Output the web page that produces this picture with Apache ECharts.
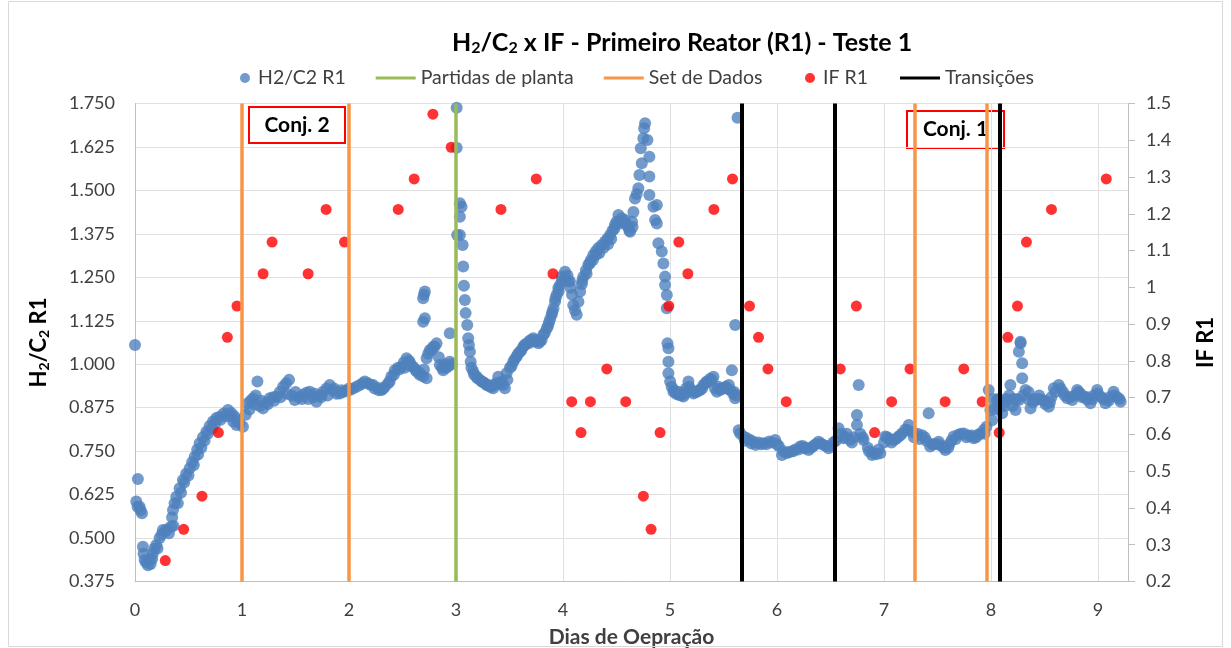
<!DOCTYPE html>
<html>
<head>
<meta charset="utf-8">
<script src="https://cdn.jsdelivr.net/npm/echarts@6/dist/echarts.min.js"></script>
<style>
html,body{margin:0;padding:0;background:#fff;}
#chart{width:1231px;height:648px;}
</style>
</head>
<body>
<div id="chart"></div>
<script>
// ---- Data ----
const xTicks = [0,1,2,3,4,5,6,7,8,9];
const leftTicks = [0.375,0.5,0.625,0.75,0.875,1.0,1.125,1.25,1.375,1.5,1.625,1.75];
const rightTicks = [0.2,0.3,0.4,0.5,0.6,0.7,0.8,0.9,1.0,1.1,1.2,1.3,1.4,1.5];

// H2/C2 R1 (left axis) : [day, value]
const h2c2 = [
[0.0,1.055],[0.027,0.67],[0.012,0.605],[0.024,0.59],[0.043,0.59],[0.065,0.571],[0.052,0.58],
[0.074,0.475],[0.08,0.455],[0.09,0.437],[0.104,0.43],[0.121,0.422],[0.141,0.44],[0.146,0.425],
[0.167,0.456],[0.183,0.47],[0.199,0.48],[0.23,0.5],[0.261,0.523],[0.286,0.52],[0.317,0.514],
[0.34,0.533],[0.347,0.56],[0.355,0.581],[0.37,0.6],[0.386,0.619],[0.417,0.643],[0.448,0.667],
[0.478,0.685],[0.511,0.701],[0.534,0.718],[0.558,0.734],[0.581,0.754],[0.604,0.773],[0.635,0.79],
[0.667,0.806],[0.698,0.822],[0.729,0.835],[0.76,0.845],[0.791,0.849],[0.829,0.858],[0.869,0.868],
[0.894,0.85],[0.918,0.835],[0.948,0.825],[0.978,0.83],[1.009,0.82],[1.035,0.855],[1.056,0.888],
[0.16,0.44],[0.21,0.47],[0.25,0.51],[0.3,0.525],[0.36,0.535],[0.4,0.6],[0.43,0.63],[0.46,0.66],
[0.5,0.68],[0.55,0.71],[0.59,0.74],[0.62,0.76],[0.65,0.78],[0.68,0.8],[0.72,0.815],[0.75,0.83],
[0.8,0.84],[0.85,0.85],[0.9,0.86],[0.93,0.85],[0.96,0.84],
[1.081,0.895],[1.103,0.902],[1.144,0.95],[1.128,0.91],[1.166,0.88],[1.196,0.873],[1.226,0.89],
[1.259,0.902],[1.29,0.905],[1.322,0.907],[1.353,0.92],[1.384,0.935],[1.412,0.945],[1.44,0.955],
[1.465,0.91],[1.493,0.897],[1.53,0.905],[1.571,0.912],[1.602,0.918],[1.633,0.921],[1.664,0.905],
[1.696,0.892],[1.727,0.91],[1.758,0.921],[1.79,0.93],[1.82,0.94],[1.851,0.925],[1.883,0.915],
[1.914,0.916],[1.945,0.92],[1.977,0.924],[2.007,0.926],[2.038,0.93],[2.07,0.935],[2.101,0.94],
[1.07,0.87],[1.12,0.885],[1.18,0.895],[1.24,0.885],[1.3,0.895],[1.36,0.905],[1.42,0.915],
[1.5,0.92],[1.56,0.9],[1.62,0.9],[1.68,0.915],[1.74,0.905],[1.8,0.91],[1.86,0.93],[1.93,0.925],[2.0,0.93],
[2.129,0.945],[2.148,0.95],[2.176,0.945],[2.204,0.94],[2.225,0.94],[2.265,0.932],[2.304,0.926],
[2.335,0.935],[2.366,0.945],[2.396,0.965],[2.428,0.983],[2.459,0.99],[2.491,0.993],[2.512,1.005],
[2.538,1.017],[2.569,1.005],[2.6,0.993],[2.631,0.979],[2.662,0.975],[2.693,0.965],[2.725,0.96],
[2.725,1.017],[2.756,1.041],[2.787,1.05],[2.818,1.06],[2.849,0.998],[2.88,0.983],[2.91,0.99],
[2.942,1.007],[2.942,1.089],[2.693,1.122],[2.709,1.132],[2.693,1.19],[2.709,1.209],[2.7,1.2],
[2.24,0.93],[2.28,0.925],[2.32,0.93],[2.38,0.95],[2.42,0.97],[2.47,0.985],[2.52,0.99],[2.56,1.01],
[2.58,0.995],[2.62,0.985],[2.66,0.97],[2.7,0.985],[2.74,1.03],[2.77,1.04],[2.8,1.05],[2.84,1.02],
[2.87,0.99],[2.9,1.0],[2.93,0.995],[2.96,1.0],
[3.006,1.738],[3.006,1.623],[3.036,1.463],[3.052,1.453],[3.036,1.424],[3.011,1.372],[3.036,1.372],
[3.062,1.343],[3.067,1.281],[3.074,1.226],[3.083,1.185],[3.09,1.147],[3.105,1.113],[3.114,1.075],
[3.121,1.055],[3.13,1.036],[3.137,1.007],[3.144,0.99],[3.161,0.979],[3.191,0.965],[3.224,0.955],
[3.254,0.948],[3.286,0.94],[3.317,0.935],[3.348,0.931],[3.373,0.945],[3.395,0.964],[3.429,0.95],
[3.17,0.97],[3.2,0.96],[3.24,0.95],[3.27,0.945],[3.3,0.94],[3.33,0.935],[3.36,0.94],[3.41,0.945],[3.44,0.94],
[3.457,0.931],[3.473,0.974],[3.504,0.99],[3.535,1.007],[3.567,1.022],[3.598,1.036],[3.629,1.05],
[3.66,1.06],[3.691,1.068],[3.722,1.075],[3.754,1.07],[3.785,1.065],[3.816,1.085],[3.848,1.103],
[3.869,1.12],[3.894,1.142],[3.911,1.16],[3.925,1.18],[3.941,1.2],[3.956,1.219],[3.972,1.228],
[3.48,0.955],[3.52,0.995],[3.55,1.015],[3.58,1.03],[3.61,1.04],[3.64,1.055],[3.68,1.06],[3.71,1.07],
[3.74,1.065],[3.77,1.06],[3.8,1.07],[3.83,1.09],[3.86,1.11],[3.88,1.13],[3.9,1.15],[3.93,1.19],
[3.96,1.21],[3.99,1.24],[4.02,1.25],[4.05,1.24],[4.07,1.22],
[3.988,1.252],[4.019,1.266],[4.042,1.255],[4.065,1.238],[4.084,1.2],[4.096,1.17],[4.112,1.155],
[4.128,1.142],[4.144,1.18],[4.16,1.209],[4.175,1.23],[4.19,1.252],[4.214,1.27],[4.237,1.286],
[4.26,1.3],[4.283,1.314],[4.307,1.325],[4.33,1.334],[4.362,1.343],[4.393,1.353],[4.416,1.362],
[4.44,1.372],[4.463,1.385],[4.486,1.401],[4.518,1.429],[4.549,1.42],[4.58,1.415],[4.608,1.395],
[4.18,1.24],[4.22,1.26],[4.25,1.29],[4.28,1.3],[4.31,1.315],[4.34,1.32],[4.38,1.335],[4.42,1.345],
[4.45,1.36],[4.48,1.39],[4.5,1.41],[4.53,1.405],[4.56,1.41],[4.6,1.4],[4.62,1.385],[4.65,1.395],
[4.627,1.381],[4.645,1.41],[4.658,1.438],[4.673,1.477],[4.689,1.49],[4.704,1.506],[4.714,1.544],
[4.736,1.578],[4.727,1.621],[4.751,1.65],[4.758,1.679],[4.767,1.693],[4.789,1.645],[4.807,1.597],
[4.807,1.54],[4.807,1.487],[4.845,1.453],[4.877,1.458],[4.861,1.415],[4.877,1.405],[4.891,1.348],
[4.923,1.324],[4.938,1.29],[4.954,1.252],[4.954,1.228],[4.97,1.199],[4.97,1.161],[4.976,1.06],
[4.985,1.046],[4.985,1.007],[4.985,0.974],[5.001,0.95],[5.015,0.935],[5.032,0.921],[5.057,0.915],
[5.079,0.912],[5.104,0.91],[5.125,0.907],[5.151,0.93],[5.172,0.95],[5.197,0.925],[5.219,0.916],
[5.249,0.92],[5.282,0.926],[5.312,0.94],[5.344,0.95],[5.375,0.958],[5.406,0.964],[5.438,0.921],
[5.469,0.926],[5.5,0.931],[5.531,0.93],[5.562,0.926],[5.578,0.983],[5.59,0.915],[5.609,0.902],
[5.04,0.925],[5.09,0.92],[5.14,0.915],[5.18,0.935],[5.23,0.92],[5.27,0.925],[5.3,0.93],[5.33,0.945],
[5.36,0.95],[5.39,0.955],[5.42,0.93],[5.45,0.935],[5.48,0.93],[5.52,0.935],[5.55,0.94],[5.6,0.92],[5.62,0.91],
[5.609,1.113],[5.631,1.709],
[5.642,0.81],[5.656,0.801],[5.687,0.792],[5.718,0.787],[5.749,0.782],[5.78,0.777],[5.827,0.775],
[5.874,0.773],[5.927,0.778],[5.983,0.782],[6.016,0.765],[6.046,0.739],[6.086,0.745],[6.123,0.748],
[6.17,0.755],[6.217,0.763],[6.254,0.758],[6.295,0.753],[6.339,0.765],[6.388,0.777],[6.432,0.768],
[6.482,0.758],[6.526,0.775],[6.575,0.816],[6.622,0.787],[6.652,0.8],[6.685,0.782],[6.717,0.79],
[5.7,0.78],[5.76,0.772],[5.8,0.768],[5.85,0.77],[5.9,0.77],[5.95,0.775],[6.0,0.77],[6.06,0.75],
[6.1,0.745],[6.15,0.75],[6.2,0.755],[6.24,0.765],[6.27,0.76],[6.32,0.76],[6.36,0.77],[6.41,0.772],
[6.46,0.765],[6.5,0.765],[6.55,0.78],
[6.747,0.854],[6.747,0.825],[6.763,0.94],[6.778,0.8],[6.809,0.782],[6.848,0.76],[6.888,0.739],
[6.928,0.741],[6.965,0.744],[7.012,0.792],[7.049,0.785],[7.09,0.782],[7.129,0.79],[7.168,0.801],
[7.199,0.812],[7.231,0.825],[7.265,0.805],[7.312,0.8],[7.355,0.796],[7.395,0.78],[7.431,0.763],
[7.47,0.77],[7.511,0.777],[7.417,0.859],[7.54,0.765],[7.573,0.753],[7.61,0.77],[7.651,0.792],
[7.695,0.797],[7.745,0.801],[7.789,0.795],[7.838,0.787],[7.882,0.798],[7.932,0.811],[7.957,0.82],
[6.6,0.8],[6.64,0.79],[6.7,0.775],[6.8,0.79],[6.86,0.75],[6.9,0.745],[6.95,0.755],[7.0,0.775],
[7.03,0.79],[7.07,0.775],[7.11,0.785],[7.15,0.795],[7.22,0.81],[7.28,0.79],[7.33,0.785],[7.38,0.79],
[7.45,0.77],[7.5,0.77],[7.56,0.76],[7.6,0.76],[7.63,0.78],[7.67,0.785],[7.72,0.8],[7.77,0.79],
[7.82,0.795],[7.86,0.79],[7.9,0.8],[7.94,0.8],
[7.978,0.926],[7.994,0.868],[8.01,0.839],[8.032,0.87],[8.054,0.897],[8.074,0.875],[8.104,0.859],
[8.125,0.88],[8.151,0.897],[8.181,0.94],[8.205,0.9],[8.229,0.868],[8.26,0.897],[8.276,1.06],
[8.02,0.9],[8.07,0.9],[8.1,0.885],[8.14,0.9],[8.17,0.91],[8.2,0.88],[8.24,0.9],
[8.276,1.065],[8.26,1.036],[8.291,1.003],[8.291,0.96],[8.322,0.926],[8.345,0.9],[8.369,0.873],
[8.392,0.89],[8.415,0.897],[8.446,0.9],[8.478,0.897],[8.509,0.885],[8.54,0.878],[8.563,0.905],
[8.587,0.931],[8.633,0.94],[8.673,0.92],[8.712,0.902],[8.759,0.897],[8.805,0.926],[8.836,0.915],
[8.867,0.907],[8.899,0.898],[8.929,0.888],[8.961,0.91],[8.992,0.926],[9.033,0.905],[9.07,0.888],
[9.107,0.905],[9.145,0.921],[9.18,0.905],[9.211,0.892],
[8.3,0.91],[8.35,0.92],[8.4,0.9],[8.45,0.91],[8.5,0.895],[8.55,0.89],[8.6,0.92],[8.65,0.93],
[8.69,0.91],[8.74,0.905],[8.78,0.91],[8.82,0.92],[8.85,0.905],[8.9,0.905],[8.95,0.9],[9.0,0.915],
[9.05,0.9],[9.1,0.895],[9.15,0.91],[9.2,0.9]
];

// IF R1 (right axis) : [day, value]
const ifR1 = [
[0.283,0.257],[0.455,0.342],[0.626,0.432],[0.779,0.605],[0.863,0.864],[0.953,0.949],
[1.197,1.037],[1.281,1.123],[1.618,1.037],[1.786,1.212],[1.958,1.123],[2.46,1.212],
[2.609,1.295],[2.784,1.471],[2.955,1.381],[3.42,1.212],[3.75,1.295],[3.906,1.037],
[4.081,0.689],[4.168,0.605],[4.256,0.689],[4.409,0.778],[4.586,0.689],[4.751,0.432],
[4.823,0.342],[4.907,0.605],[4.989,0.949],[5.082,1.123],[5.167,1.037],[5.41,1.212],
[5.584,1.295],[5.743,0.949],[5.827,0.864],[5.915,0.778],[6.086,0.689],[6.591,0.778],
[6.741,0.949],[6.912,0.605],[7.071,0.689],[7.243,0.778],[7.571,0.689],[7.745,0.778],
[7.917,0.689],[8.076,0.605],[8.157,0.864],[8.247,0.949],[8.331,1.123],[8.565,1.212],
[9.077,1.295]
];

// vertical marker lines (days)
const plantStarts = [3.0];
const dataSets = [1.0, 2.0, 7.29, 7.96];
const transitions = [5.665, 6.54, 8.08];

const FONT = 'Lato';
const TXT = '#404040';
const lineIcon = 'path://M0,0M40,12M0,4.6L40,4.6L40,7.4L0,7.4Z';
const dotIcon = 'path://M0,0M40,12M27,6A5,5,0,1,1,37,6A5,5,0,1,1,27,6Z';

function vline(name, arr, color, width, z) {
  return {
    name: name, type: 'line', data: [], z: z,
    itemStyle: {color: color}, lineStyle: {color: color, width: width},
    markLine: {
      silent: true, symbol: ['none','none'], label: {show: false},
      lineStyle: {color: color, width: width, type: 'solid'},
      emphasis: {disabled: true},
      data: arr.map(v => ({xAxis: v}))
    }
  };
}

const legendBase = {
  top: 63, itemWidth: 40, itemHeight: 12,
  textStyle: {fontFamily: FONT, fontSize: 19.5, color: TXT}
};

const chart = echarts.init(document.getElementById('chart'));
chart.setOption({
  animation: false,
  backgroundColor: '#fff',
  textStyle: {fontFamily: FONT},
  title: {
    text: '{t|H}{s|2}{t|/C}{s|2}{t| x IF - Primeiro Reator (R1) - Teste 1}',
    left: 447, top: 24,
    textStyle: {
      rich: {
        t: {fontFamily: FONT, fontWeight: 'bold', fontSize: 25, color: '#000'},
        s: {fontFamily: FONT, fontWeight: 'bold', fontSize: 16, color: '#000', verticalAlign: 'bottom', padding: [11,0,0,0]}
      }
    }
  },
  legend: [
    Object.assign({}, legendBase, {
      left: 208, itemGap: 30,
      data: [
        {name: 'H2/C2 R1', icon: dotIcon},
        {name: 'Partidas de planta', icon: lineIcon},
        {name: 'Set de Dados', icon: lineIcon}
      ]
    }),
    Object.assign({}, legendBase, {
      left: 773, itemGap: 32,
      data: [
        {name: 'IF R1', icon: dotIcon},
        {name: 'Transições', icon: lineIcon}
      ]
    })
  ],
  grid: {left: 135, right: 103, top: 103.5, bottom: 66.5, containLabel: false, outerBoundsMode: 'none'},
  xAxis: {
    type: 'value', min: xTicks[0], max: 9.28, interval: 1,
    name: 'Dias de Oepração', nameLocation: 'middle', nameGap: 45,
    nameTextStyle: {fontFamily: FONT, fontSize: 21, fontWeight: 'bold', color: TXT},
    axisLine: {show: true, onZero: false, lineStyle: {color: '#bfbfbf', width: 1}},
    axisTick: {show: false},
    axisLabel: {fontFamily: FONT, fontSize: 18, color: TXT, margin: 20, showMaxLabel: false,
      formatter: v => xTicks.includes(v) ? String(v) : ''},
    splitLine: {show: true, lineStyle: {color: '#e0e0e0', width: 1}}
  },
  yAxis: [
    {
      type: 'value', min: leftTicks[0], max: leftTicks[leftTicks.length-1], interval: 0.125,
      name: '{b|H}{s|2}{b|/C}{s|2}{b| R1}', nameLocation: 'middle', nameGap: 84, nameRotate: 90,
      nameTextStyle: {
        rich: {
          b: {fontFamily: FONT, fontSize: 22, fontWeight: 'bold', color: '#000'},
          s: {fontFamily: FONT, fontSize: 14, fontWeight: 'bold', color: '#000', verticalAlign: 'bottom', padding: [10,0,0,0]}
        }
      },
      axisLine: {show: true, lineStyle: {color: '#bfbfbf', width: 1}},
      axisTick: {show: false},
      axisLabel: {fontFamily: FONT, fontSize: 18, color: TXT, margin: 20, formatter: v => v.toFixed(3)},
      splitLine: {show: true, lineStyle: {color: '#e0e0e0', width: 1}}
    },
    {
      type: 'value', min: rightTicks[0], max: rightTicks[rightTicks.length-1], interval: 0.1,
      position: 'right',
      name: 'IF R1', nameLocation: 'middle', nameGap: 67, nameRotate: 90,
      nameTextStyle: {fontFamily: FONT, fontSize: 22, fontWeight: 'bold', color: '#000'},
      axisLine: {show: true, lineStyle: {color: '#bfbfbf', width: 1}},
      axisTick: {show: true, length: 7, lineStyle: {color: '#bfbfbf'}},
      axisLabel: {fontFamily: FONT, fontSize: 18, color: TXT, margin: 18,
        formatter: v => String(+v.toFixed(1))},
      splitLine: {show: false}
    }
  ],
  series: [
    {
      name: 'H2/C2 R1', type: 'scatter', yAxisIndex: 0, z: 2,
      symbol: 'circle', symbolSize: 12,
      itemStyle: {color: '#4f81bd'},
      data: h2c2
    },
    vline('Partidas de planta', plantStarts, '#9bbb59', 3.5, 3),
    vline('Set de Dados', dataSets, '#f79646', 3.5, 3),
    {
      name: 'IF R1', type: 'scatter', yAxisIndex: 1, z: 4,
      symbol: 'circle', symbolSize: 11,
      itemStyle: {color: '#ff0000'},
      data: ifR1
    },
    vline('Transições', transitions, '#000000', 4, 150)
  ],
  graphic: [
    {type: 'rect', z: 1, silent: true, shape: {x: 8.5, y: 1.5, width: 1214, height: 645},
     style: {fill: 'none', stroke: '#d9d9d9', lineWidth: 1}},
    {type: 'group', left: 248, top: 106, z: 100, children: [
      {type: 'rect', shape: {x: 0, y: 0, width: 96, height: 36},
       style: {fill: '#fff', stroke: '#ff0000', lineWidth: 2}},
      {type: 'text', x: 48, y: 18, style: {text: 'Conj. 2', x: 0, y: 0, align: 'center', verticalAlign: 'middle',
        fontFamily: FONT, fontSize: 21, fontWeight: 'bold', fill: '#000'}}
    ]},
    {type: 'group', left: 906, top: 110, z: 100, children: [
      {type: 'rect', shape: {x: 0, y: 0, width: 97, height: 37},
       style: {fill: '#fff', stroke: '#ff0000', lineWidth: 2}},
      {type: 'text', x: 48.5, y: 18.5, style: {text: 'Conj. 1', x: 0, y: 0, align: 'center', verticalAlign: 'middle',
        fontFamily: FONT, fontSize: 21, fontWeight: 'bold', fill: '#000'}}
    ]}
  ]
});
</script>
</body>
</html>
